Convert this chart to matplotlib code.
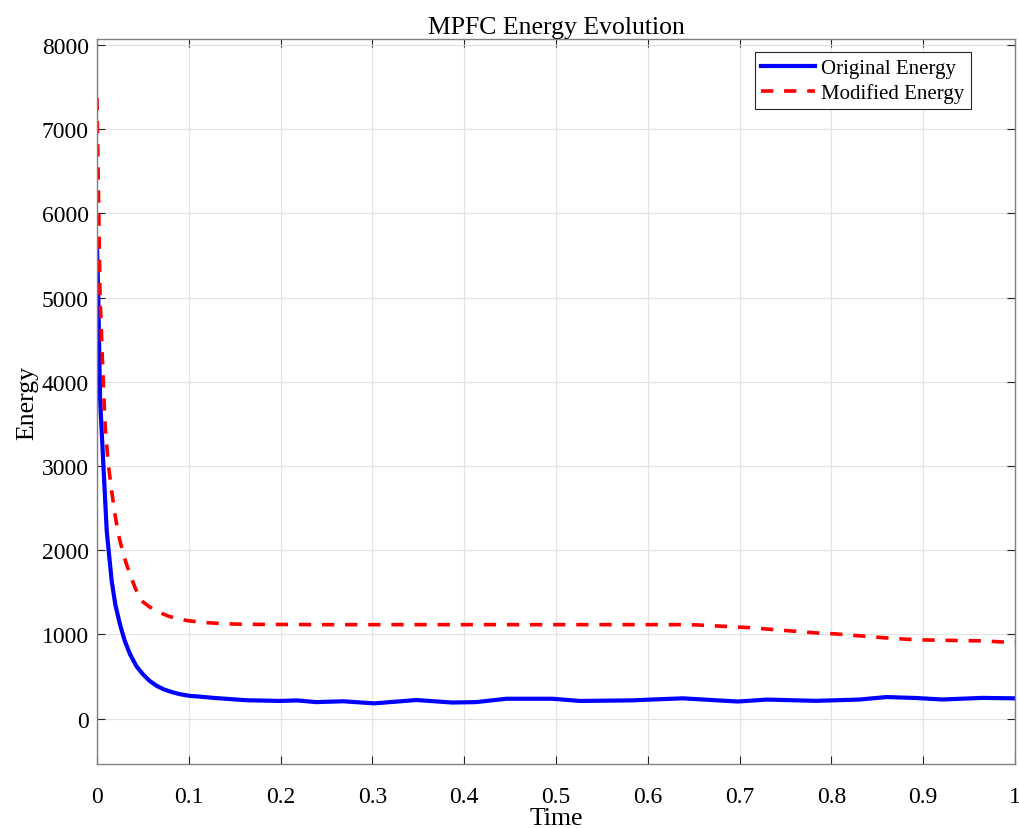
import matplotlib

matplotlib.use("Agg")
import matplotlib.pyplot as plt

# values
t_orig = [0.0, 0.0014, 0.0033, 0.0069, 0.0106, 0.016, 0.020, 0.025, 0.030,
          0.036, 0.043, 0.050, 0.057, 0.065, 0.073, 0.083, 0.090, 0.101,
          0.110, 0.127, 0.148, 0.163, 0.199, 0.218, 0.239, 0.268, 0.302,
          0.348, 0.387, 0.413, 0.446, 0.496, 0.526, 0.580, 0.638, 0.698,
          0.730, 0.783, 0.830, 0.860, 0.892, 0.921, 0.964, 1.0]
e_orig = [5610, 4997, 3810, 3018, 2226, 1632, 1350, 1119, 930,
          763, 620, 526, 450, 388, 345, 309, 290, 269,
          262, 245, 229, 217, 209, 215, 195, 205, 180,
          220, 190, 195, 235, 235, 209, 215, 240, 202,
          225, 210, 225, 255, 244, 226, 245, 240]

t_mod = [0.0, 0.0033, 0.0069, 0.009, 0.0123, 0.016, 0.0196, 0.023, 0.0269,
         0.031, 0.0359, 0.042, 0.0486, 0.058, 0.0686, 0.078, 0.0903, 0.100,
         0.119, 0.140, 0.163, 0.254, 0.400, 0.500, 0.638, 0.653, 0.710,
         0.783, 0.805, 0.855, 0.892, 0.964, 1.0]
e_mod = [7370, 5022, 3968, 3450, 3018, 2700, 2425, 2200, 2030,
         1870, 1713, 1540, 1397, 1320, 1258, 1215, 1179, 1160,
         1139, 1125, 1119, 1115, 1115, 1115, 1115, 1112, 1080,
         1017, 1005, 961, 935, 922, 902]

x_ticks = [0, 0.1, 0.2, 0.3, 0.4, 0.5, 0.6, 0.7, 0.8, 0.9, 1]
x_labels = ["0", "0.1", "0.2", "0.3", "0.4", "0.5", "0.6", "0.7", "0.8", "0.9", "1"]
y_ticks = [0, 1000, 2000, 3000, 4000, 5000, 6000, 7000, 8000]

plt.rcParams.update({
    "font.family": ["Liberation Serif", "DejaVu Serif"],
    "font.size": 17,
    "xtick.direction": "in",
    "ytick.direction": "in",
})

fig = plt.figure(figsize=(10.19, 8.29), dpi=100)
ax = fig.add_axes([0.0952, 0.0772, 0.9008, 0.8745])

ax.plot(t_orig, e_orig, color="#0000ff", lw=3.0, label="Original Energy")
ax.plot(t_mod, e_mod, color="#ff0000", lw=2.6, dashes=(3.4, 3.0),
        label="Modified Energy")

ax.set_xlim(0, 1)
ax.set_ylim(-540, 8070)
ax.set_xticks(x_ticks)
ax.set_xticklabels(x_labels)
ax.set_yticks(y_ticks)
ax.tick_params(top=True, right=True, length=6, width=0.8, color="#262626",
               labelsize=17)
ax.tick_params(axis="x", pad=16)
ax.tick_params(axis="y", pad=6)
ax.grid(True, color="#e3e3e3", lw=0.9)
for s in ax.spines.values():
    s.set_color("#808080")
    s.set_linewidth(1.0)

ax.set_title("MPFC Energy Evolution", fontsize=18.5, pad=4)
ax.set_xlabel("Time", fontsize=18.5, labelpad=0)
ax.set_ylabel("Energy", fontsize=18.5, labelpad=2)

leg = ax.legend(loc="upper right", bbox_to_anchor=(0.952, 0.982),
                fontsize=15, fancybox=False, framealpha=1,
                edgecolor="#262626", handlelength=2.6, borderpad=0.3,
                labelspacing=0.25, handletextpad=0.3, borderaxespad=0)
leg.get_frame().set_linewidth(0.8)

fig.savefig("out.png", dpi=100)
